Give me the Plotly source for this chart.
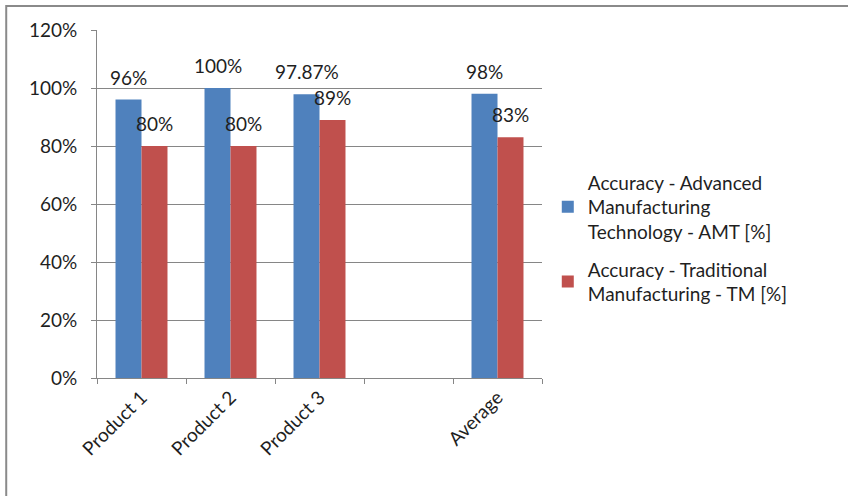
import plotly.graph_objects as go

# Category slots (the blank slot separates the products from the average)
categories = ["Product 1", "Product 2", "Product 3", " ", "Average"]
amt_values = [0.96, 1.00, 0.9787, None, 0.98]
tm_values = [0.80, 0.80, 0.89, None, 0.83]

amt_name = "Accuracy - Advanced<br>Manufacturing<br>Technology - AMT [%]"
tm_name = "Accuracy - Traditional<br>Manufacturing - TM [%]"

y_ticks = [0, 0.2, 0.4, 0.6, 0.8, 1.0, 1.2]

BLUE = "#4F81BD"
RED = "#C0504D"
FONT = "Lato"
TEXT_COLOR = "#1f1f1f"
FS = 19


def pct(v):
    return f"{v * 100:g}%"


fig = go.Figure()
fig.add_trace(go.Bar(x=categories, y=amt_values, name=amt_name,
                     marker=dict(color=BLUE, line=dict(width=0)),
                     legendgroup="amt"))
fig.add_trace(go.Bar(x=categories, y=tm_values, name=tm_name,
                     marker=dict(color=RED, line=dict(width=0)),
                     legendgroup="tm"))

# Value labels above each bar, offset to the bar's slot inside the group
annotations = []
for vals, shift in ((amt_values, -13), (tm_values, 13)):
    for cat, v in zip(categories, vals):
        if v is None:
            continue
        annotations.append(dict(
            x=cat, y=v, xref="x", yref="y", text=pct(v), showarrow=False,
            xanchor="center", yanchor="bottom", xshift=shift, yshift=9,
            font=dict(family=FONT, size=FS, color=TEXT_COLOR)))

fig.update_layout(
    width=848, height=496,
    margin=dict(l=97, r=306, t=30, b=118),
    paper_bgcolor="white", plot_bgcolor="white",
    barmode="group", bargap=0.416, bargroupgap=0,
    font=dict(family=FONT, size=FS, color=TEXT_COLOR),
    annotations=annotations,
    legend=dict(x=1.013, y=0.617, xanchor="left", yanchor="top",
                font=dict(family=FONT, size=FS, color=TEXT_COLOR),
                tracegroupgap=10, bgcolor="rgba(0,0,0,0)"),
    shapes=[dict(type="rect", xref="paper", yref="paper",
                 x0=-0.204, x1=1.75, y0=-0.4, y1=1.069,
                 line=dict(color="#8a8a8a", width=2))],
    xaxis=dict(type="category", categoryorder="array", categoryarray=categories,
               range=[-0.5, 4.5], tickangle=-45,
               showline=True, linecolor="#868686", linewidth=1,
               ticks="outside", ticklen=5, tickcolor="#868686",
               tickson="boundaries", showgrid=False,
               tickfont=dict(family=FONT, size=FS, color=TEXT_COLOR)),
    yaxis=dict(range=[0, 1.2], tickvals=y_ticks, tickformat=".0%",
               showline=True, linecolor="#868686", linewidth=1,
               ticks="outside", ticklen=5, tickcolor="#868686",
               showgrid=True, gridcolor="#868686", gridwidth=1,
               zeroline=False, ticklabelstandoff=10,
               tickfont=dict(family=FONT, size=FS, color=TEXT_COLOR)),
)

fig.write_html("out.html")
